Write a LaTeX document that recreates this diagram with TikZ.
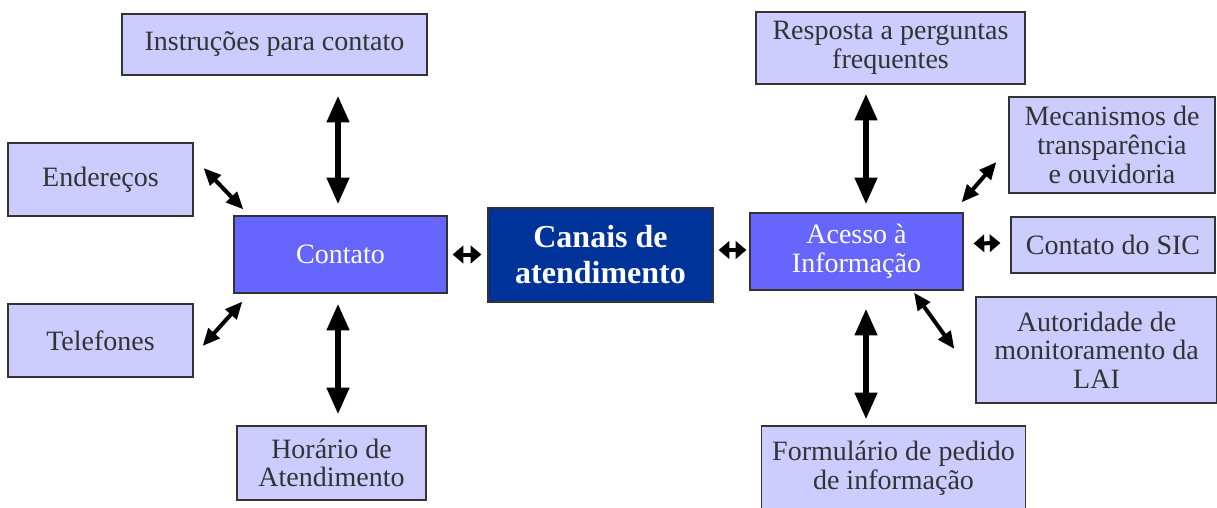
\documentclass[tikz,border=0pt]{standalone}
\usepackage{fontspec}
\setmainfont{Liberation Serif}
\usepackage{tikz}
\usetikzlibrary{arrows.meta,calc,positioning}

\definecolor{lilac}{RGB}{204,204,255}
\definecolor{midblue}{RGB}{102,102,255}
\definecolor{navyblue}{RGB}{0,51,153}
\definecolor{boxline}{RGB}{51,51,51}

\tikzset{
  lightbox/.style={draw=boxline, line width=0.9pt, fill=lilac, text=boxline, align=center, inner sep=0pt,
    font=\fontsize{21}{21.5}\selectfont},
  midbox/.style={draw=boxline, line width=0.9pt, fill=midblue, text=white, align=center, inner sep=0pt,
    font=\fontsize{21}{21.5}\selectfont},
  mainbox/.style={draw=boxline, line width=0.9pt, fill=navyblue, text=white, align=center, inner sep=0pt,
    font=\fontsize{24}{27}\selectfont\bfseries},
  longarrow/.style={line width=4.5pt, {Triangle[length=20pt,width=16pt]}-{Triangle[length=20pt,width=16pt]}},
  slantarrow/.style={line width=3pt, {Triangle[length=13pt,width=11pt]}-{Triangle[length=13pt,width=11pt]}},
  shortarrow/.style={line width=3pt, {Triangle[length=8pt,width=13pt]}-{Triangle[length=8pt,width=13pt]}},
}

\begin{document}
\begin{tikzpicture}[x=0.75pt,y=0.75pt,yscale=-1]
    \useasboundingbox (0,0) rectangle (1217,507);
    \clip (0,0) rectangle (1217,507);

    %Center
    \node[mainbox, minimum width=168.75pt, minimum height=70.5pt] (canais) at (600.5,255) {Canais de\\atendimento};

    %Left side
    \node[midbox, minimum width=159.75pt, minimum height=57.75pt] (contato) at (340.5,254.5) {Contato};
    \node[lightbox, minimum width=228.75pt, minimum height=45.75pt] (instr) at (274.5,44.5) {Instruções para contato};
    \node[lightbox, minimum width=138.75pt, minimum height=54.75pt] (ender) at (100.5,179.5) {Endereços};
    \node[lightbox, minimum width=138.75pt, minimum height=54.75pt] (telef) at (100.5,340.5) {Telefones};
    \node[lightbox, minimum width=141.75pt, minimum height=55.5pt] (horario) at (331.5,463) {Horário de\\Atendimento};

    %Right side
    \node[midbox, minimum width=159.75pt, minimum height=57.75pt] (acesso) at (856.5,251.5) {Acesso à\\Informação};
    \node[lightbox, minimum width=201.75pt, minimum height=54pt] (resposta) at (890.5,48) {Resposta a perguntas\\frequentes};
    \node[lightbox, minimum width=154.5pt, minimum height=72pt] (mecan) at (1112,145) {Mecanismos de\\transparência\\e ouvidoria};
    \node[lightbox, minimum width=153pt, minimum height=42pt] (sic) at (1113,245) {Contato do SIC};
    \node[lightbox, minimum width=180.75pt, minimum height=79.5pt] (autor) at (1096.5,350) {Autoridade de\\monitoramento da\\LAI};
    \node[lightbox, minimum width=198pt, minimum height=63pt] (formul) at (893.5,468) {Formulário de pedido\\de informação};

    %Arrows left
    \draw[longarrow] ($(instr.south -| contato.north)+(-2.5,20)$) -- ($(contato.north)+(-2.5,-11)$);
    \draw[longarrow] ($(contato.south)+(-2.5,10)$) -- ($(horario.north -| contato.south)+(-2.5,-11)$);
    \draw[slantarrow] ($(ender.east)+(10,-11.5)$) -- ($(contato.north west)+(10,-6)$);
    \draw[slantarrow] ($(telef.east)+(9,5.5)$) -- ($(contato.south west)+(9,8)$);
    \draw[shortarrow] ($(contato.east)+(5,0)$) -- ($(canais.west |- contato.east)+(-6,0)$);

    %Arrows right
    \draw[shortarrow] ($(canais.east)+(5,-5)$) -- ($(acesso.west |- canais.east)+(-3,-5)$);
    \draw[longarrow] ($(resposta.south -| acesso.north)+(9.5,9)$) -- ($(acesso.north)+(9.5,-8)$);
    \draw[longarrow] ($(acesso.south)+(9.5,18)$) -- ($(formul.north -| acesso.south)+(9.5,-6)$);
    \draw[slantarrow] ($(acesso.north east)+(-2,-10)$) -- ($(mecan.west)+(-12,17)$);
    \draw[shortarrow] ($(acesso.east)+(10,-8)$) -- ($(sic.west)+(-10,-2)$);
    \draw[slantarrow] ($(acesso.south)+(57.5,2)$) -- ($(autor.west)+(-21,-1)$);

\end{tikzpicture}
\end{document}
